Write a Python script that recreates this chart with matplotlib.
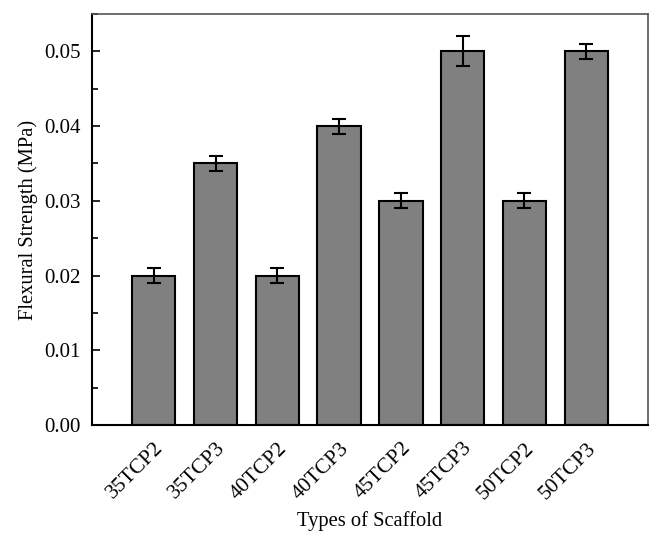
import matplotlib
matplotlib.use('Agg')
import matplotlib.pyplot as plt
from matplotlib.ticker import MultipleLocator, FormatStrFormatter

# data
scaffolds = ['35TCP2', '35TCP3', '40TCP2', '40TCP3', '45TCP2', '45TCP3', '50TCP2', '50TCP3']
strength = [0.020, 0.035, 0.020, 0.040, 0.030, 0.050, 0.030, 0.050]
errors = [0.001, 0.001, 0.001, 0.001, 0.001, 0.002, 0.001, 0.001]

plt.rcParams['font.family'] = ['Liberation Serif', 'DejaVu Serif']

fig = plt.figure(figsize=(6.62, 5.47), dpi=100)
ax = fig.add_axes([92 / 662, 1 - 425 / 547, (648 - 92) / 662, (425 - 14) / 547])

x = list(range(len(scaffolds)))
ax.bar(x, strength, width=0.7, color='#808080', edgecolor='black', linewidth=1.5,
       yerr=errors, capsize=5, error_kw=dict(elinewidth=1.5, capthick=1.5, ecolor='black'),
       zorder=2)

ax.set_xlim(-1, 8)
ax.set_ylim(0, 0.055)
ax.yaxis.set_major_locator(MultipleLocator(0.01))
ax.yaxis.set_minor_locator(MultipleLocator(0.005))
ax.yaxis.set_major_formatter(FormatStrFormatter('%.2f'))

ax.set_xticks(x)
ax.set_xticklabels(scaffolds, rotation=45, ha='right', rotation_mode='anchor', fontsize=15.5)
ax.tick_params(axis='x', length=0, pad=10)
ax.tick_params(axis='y', which='major', direction='in', length=6, width=1.2,
               labelsize=15, pad=8)
ax.tick_params(axis='y', which='minor', direction='in', length=4, width=1.2)

for side in ['left', 'bottom']:
    ax.spines[side].set_linewidth(1.5)
for side in ['top', 'right']:
    ax.spines[side].set_linewidth(1.2)
    ax.spines[side].set_color('#555555')

ax.set_ylabel('Flexural Strength (MPa)', fontsize=14.8, labelpad=4.5)
ax.set_xlabel('Types of Scaffold', fontsize=14.8, labelpad=6)

fig.savefig('out.png', dpi=100)
